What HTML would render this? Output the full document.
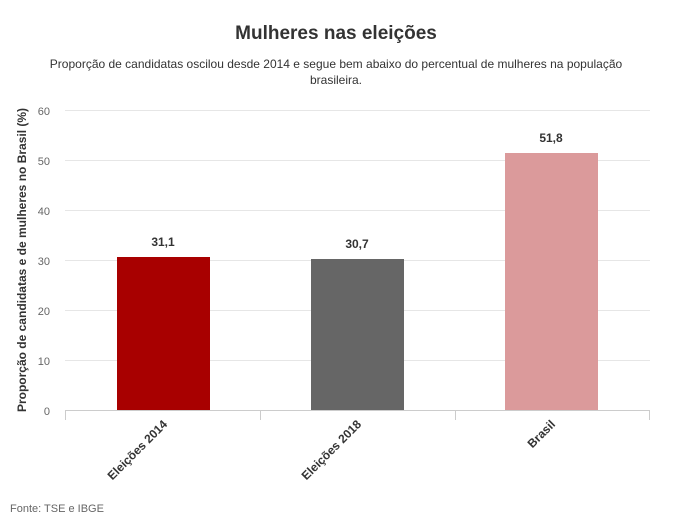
<!DOCTYPE html>
<html><head><meta charset="utf-8"><style>
body{margin:0;background:#fff;width:673px;height:525px;overflow:hidden}
svg{display:block;font-family:"Liberation Sans","DejaVu Sans",sans-serif}
</style></head><body>
<svg width="673" height="525" viewBox="0 0 673 525">
<text x="336" y="39" text-anchor="middle" font-size="19" font-weight="bold" fill="#333">Mulheres nas eleições</text>
<text x="336" y="68" text-anchor="middle" font-size="12" fill="#333">Proporção de candidatas oscilou desde 2014 e segue bem abaixo do percentual de mulheres na população</text>
<text x="336" y="84" text-anchor="middle" font-size="12" fill="#333">brasileira.</text>
<g stroke="#e6e6e6" stroke-width="1">
<line x1="65" x2="650" y1="110.5" y2="110.5"/>
<line x1="65" x2="650" y1="160.5" y2="160.5"/>
<line x1="65" x2="650" y1="210.5" y2="210.5"/>
<line x1="65" x2="650" y1="260.5" y2="260.5"/>
<line x1="65" x2="650" y1="310.5" y2="310.5"/>
<line x1="65" x2="650" y1="360.5" y2="360.5"/>
</g>
<g font-size="11" fill="#666" text-anchor="end">
<text x="50" y="115">60</text><text x="50" y="165">50</text><text x="50" y="215">40</text>
<text x="50" y="265">30</text><text x="50" y="315">20</text><text x="50" y="365">10</text><text x="50" y="415">0</text>
</g>
<text transform="translate(26,260) rotate(-90)" text-anchor="middle" font-size="12" font-weight="bold" fill="#333">Proporção de candidatas e de mulheres no Brasil (%)</text>
<rect x="117" y="257" width="93" height="154" fill="#a80000"/>
<rect x="311" y="259" width="93" height="152" fill="#666666"/>
<rect x="505" y="153" width="93" height="258" fill="#db9a9b"/>
<g font-size="12" font-weight="bold" fill="#333" text-anchor="middle">
<text x="163" y="246">31,1</text><text x="357" y="248">30,7</text><text x="551" y="142">51,8</text>
</g>
<g stroke="#ccc"><line x1="65" x2="650" y1="410.5" y2="410.5"/>
<line x1="65.5" x2="65.5" y1="410" y2="420"/><line x1="260.5" x2="260.5" y1="410" y2="420"/>
<line x1="455.5" x2="455.5" y1="410" y2="420"/><line x1="649.5" x2="649.5" y1="410" y2="420"/></g>
<g font-size="12" fill="#333" font-weight="bold" text-anchor="end">
<text transform="translate(168,425) rotate(-45)">Eleições 2014</text>
<text transform="translate(362,425) rotate(-45)">Eleições 2018</text>
<text transform="translate(556,425) rotate(-45)">Brasil</text>
</g>
<text x="10" y="512" font-size="11" fill="#666">Fonte: TSE e IBGE</text>
</svg>
</body></html>
